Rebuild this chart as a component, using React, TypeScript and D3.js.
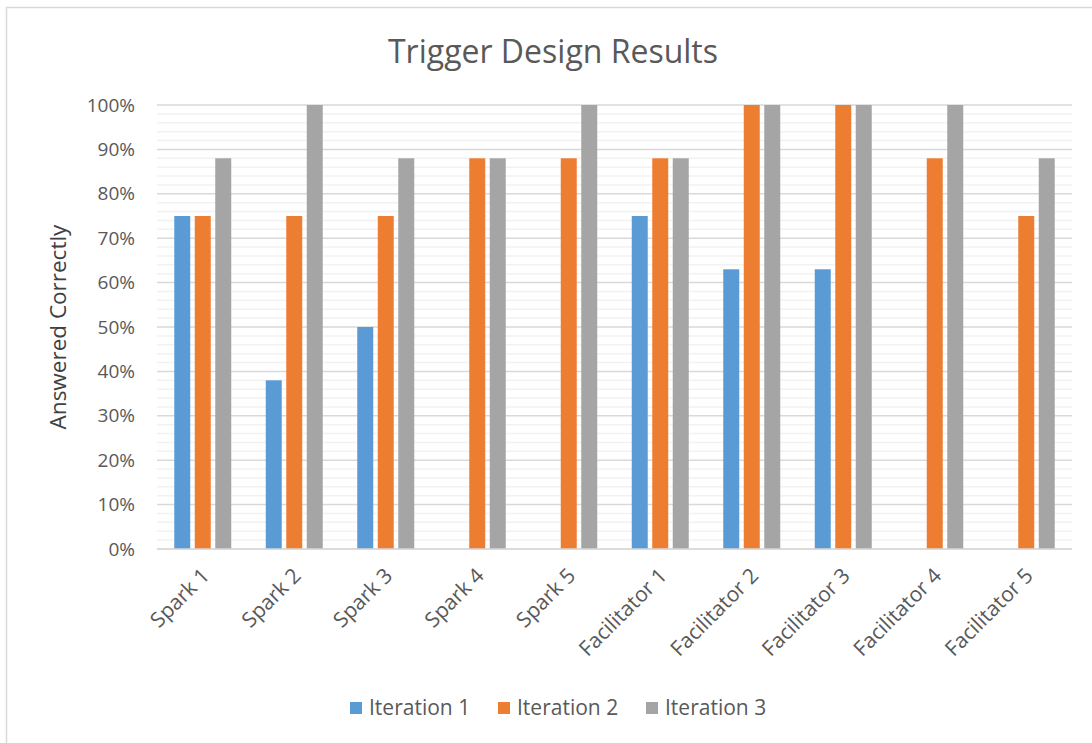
import React from "react";
import * as d3 from "d3";

const categories = ["Spark 1", "Spark 2", "Spark 3", "Spark 4", "Spark 5", "Facilitator 1", "Facilitator 2", "Facilitator 3", "Facilitator 4", "Facilitator 5"];
const seriesNames = ["Iteration 1", "Iteration 2", "Iteration 3"];
const iteration1 = [75, 38, 50, 0, 0, 75, 63, 63, 0, 0];
const iteration2 = [75, 75, 75, 88, 88, 88, 100, 100, 88, 75];
const iteration3 = [88, 100, 88, 88, 100, 88, 100, 100, 100, 88];
const colors = ["#5B9BD5", "#ED7D31", "#A5A5A5"];
const yTicks = [0, 10, 20, 30, 40, 50, 60, 70, 80, 90, 100];

export default function App() {
  const W = 1092, H = 743;
  const left = 157, right = 1072, top = 105, bottom = 549;
  const series = [iteration1, iteration2, iteration3];
  const x = d3.scaleBand<string>().domain(categories).range([left, right]).padding(0);
  const y = d3.scaleLinear().domain([0, 100]).range([bottom, top]);
  const barW = 16;
  const step = 20.5;
  const minor = d3.range(0, 101, 2).filter((v) => v % 10 !== 0);
  const font = "'Open Sans', 'Segoe UI', sans-serif";
  const legendX = [350, 498, 646];
  return (
    <svg width={W} height={H} style={{ position: "absolute", left: 0, top: 0 }}>
      <rect x={0} y={0} width={W} height={H} fill="#fff" />
      <rect x={6.5} y={7.5} width={W + 10} height={H + 10} fill="none" stroke="#d9d9d9" strokeWidth={1.5} />
      <text x={553} y={63} textAnchor="middle" fontFamily={font} fontSize={32} fill="#595959">Trigger Design Results</text>
      {minor.map((v) => (
        <line key={"m" + v} x1={left} x2={right} y1={y(v)} y2={y(v)} stroke="#f2f2f2" strokeWidth={1.5} />
      ))}
      {yTicks.map((v) => (
        <line key={"g" + v} x1={left} x2={right} y1={y(v)} y2={y(v)} stroke="#d9d9d9" strokeWidth={1.5} />
      ))}
      {yTicks.map((v) => (
        <text key={"t" + v} x={135} y={y(v)} dy="0.35em" textAnchor="end" fontFamily={font} fontSize={19} fill="#595959">{v}%</text>
      ))}
      <text transform={`translate(66,${327}) rotate(-90)`} textAnchor="middle" fontFamily={font} fontSize={22.5} fill="#404040">Answered Correctly</text>
      {categories.map((c, i) => {
        const cx = (x(c) as number) + x.bandwidth() / 2;
        return (
          <g key={c}>
            {series.map((s, k) => {
              const bx = cx + (k - 1) * step - barW / 2;
              const v = s[i];
              if (v <= 0) return null;
              return <rect key={k} x={bx} y={y(v)} width={barW} height={y(0) - y(v)} fill={colors[k]} />;
            })}
          </g>
        );
      })}
      <line x1={left} x2={right} y1={y(0)} y2={y(0)} stroke="#d9d9d9" strokeWidth={1.5} />
      {categories.map((c) => {
        const cx = (x(c) as number) + x.bandwidth() / 2;
        return (
          <text key={"x" + c} transform={`translate(${cx + 8},${577}) rotate(-45)`} textAnchor="end" fontFamily={font} fontSize={21} fill="#595959">{c}</text>
        );
      })}
      {seriesNames.map((n, k) => (
        <g key={n}>
          <rect x={legendX[k]} y={702} width={12} height={12} fill={colors[k]} />
          <text x={legendX[k] + 19} y={708} dy="0.35em" fontFamily={font} fontSize={21} fill="#595959">{n}</text>
        </g>
      ))}
    </svg>
  );
}
